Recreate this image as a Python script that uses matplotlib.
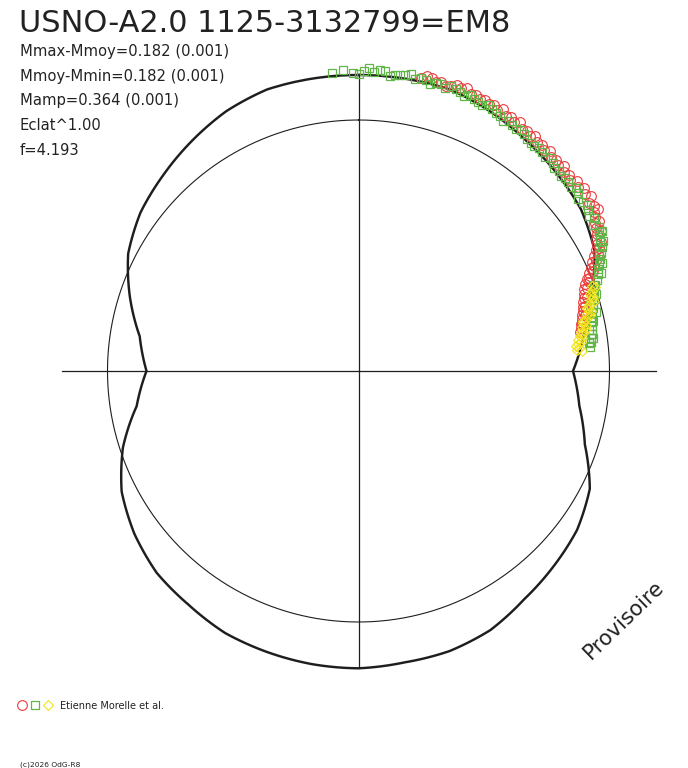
import numpy as np
import matplotlib
matplotlib.use("Agg")
import matplotlib.pyplot as plt

# ---------------- data ----------------
title = "USNO-A2.0 1125-3132799=EM8"
info_lines = ["Mmax-Mmoy=0.182 (0.001)", "Mmoy-Mmin=0.182 (0.001)",
              "Mamp=0.364 (0.001)", "Eclat^1.00", "f=4.193"]
legend_text = "Etienne Morelle et al."
copyright_text = "(c)2026 OdG-R8"
stamp_text = "Provisoire"

# model light curve: phase angle (deg, clockwise from top) and polar radius
curve_deg = [0, 9, 18, 27, 36, 45, 54, 63, 72, 81,
             90, 99, 108, 117, 126, 135, 144, 153, 162, 171,
             180, 189, 198, 207, 216, 225, 234, 243, 252, 261,
             270, 279, 288, 297, 306, 315, 324, 333, 342, 351, 360]
curve_r = [296, 296, 296, 291, 285, 280, 275, 265, 245, 228,
           214.5, 223.6, 238, 259.6, 270.2, 276, 282, 290.7, 294.5, 295,
           297.3, 296.8, 295.5, 294, 289, 285.4, 277, 265.8, 247.7, 224.6,
           212, 221.5, 240.4, 258.5, 269.5, 276.5, 284, 291.5, 296, 296, 296]

# observations (phase angle deg, radius)
green_deg = [-5, -3, -1, 1, 3, 5, 7, 9, 11, 13, 15, 17, 19, 21, 23, 25, 27, 29, 31, 33,
             35, 37, 39, 41, 43, 45, 47, 49, 51, 53, 55, 57, 59, 61, 63, 65, 67, 69, 71, 73,
             75, 77, 79, 81, 83, 84,
             0, 4, 8, 12, 16, 20, 24, 28, 32, 36, 40, 44, 48, 52, 56, 60, 62, 64, 66, 68,
             70, 72, 74, 76, 78, 80, 82,
             2, 6, 10, 14, 18, 22, 26, 30, 34, 38, 42, 46, 50, 54, 58, 60, 62, 64, 66, 68,
             70, 72, 74, 76, 78, 80, 82, 83]
green_r = [299, 301, 298, 300, 299, 301, 298, 300, 297, 299, 298, 296, 298, 295, 296, 293, 294, 291, 292, 289,
           289, 286, 287, 284, 285, 283, 283, 281, 283, 281, 280, 281, 280, 276, 273, 266, 260, 255, 249, 246,
           243, 240, 238, 236, 234, 233,
           297, 302, 299, 300, 299, 297, 295, 292, 290, 287, 286, 282, 282, 279, 278, 278, 274, 270, 263, 258,
           252, 247, 244, 241, 238, 237, 235,
           303, 297, 302, 296, 300, 298, 296, 289, 291, 285, 287, 281, 284, 283, 276, 281, 277, 268, 266, 262,
           251, 250, 241, 245, 240, 234, 237, 232]

red_deg = [12, 14, 16, 18, 20, 22, 24, 26, 28, 30, 32, 34, 36, 38, 40, 42, 44, 46, 48, 50,
           52, 54, 56, 58, 60, 62, 64, 66, 68, 70, 72, 74, 76, 78, 80,
           15, 19, 23, 27, 31, 35, 39, 43, 47, 51, 55, 57, 59, 61, 63, 65, 67, 69, 71, 73, 75, 77,
           13, 17, 21, 25, 29, 33, 37, 41, 45, 49, 53, 56, 58, 60, 62, 63, 64, 65, 66, 67,
           68, 69, 70, 72, 74, 76, 78, 79]
red_r = [300, 302, 301, 300, 301, 299, 298, 297, 296, 295, 294, 292, 291, 290, 289, 288, 287, 286, 285, 286,
         288, 285, 284, 279, 275, 270, 262, 254, 246, 240, 237, 234, 230, 227, 225,
         299, 302, 300, 298, 296, 293, 291, 289, 288, 290, 287, 282, 277, 272, 266, 258, 250, 243, 238, 235, 232, 229,
         303, 298, 303, 299, 299, 297, 294, 292, 290, 289, 291, 289, 284, 280, 275, 270, 266, 262, 258, 255,
         249, 247, 243, 240, 236, 233, 229, 227]

yellow_deg = [70, 71, 72, 73, 74, 75, 76, 77, 78, 79, 80, 81, 82, 83, 84, 72.5, 75.5, 78.5, 80.5, 82.5,
              70.5, 71.5, 73.5, 74.5, 76.5, 77.5, 79.5, 81.5, 83.5, 84.5, 85]
yellow_r = [249, 247, 244, 243, 240, 238, 235, 233, 230, 228, 226, 224, 222, 221, 222, 246, 240, 232, 228, 224,
            251, 244, 246, 237, 238, 230, 231, 226, 219, 220, 224]

ref_circle_r = 251
axis_r = 297

# ---------------- figure ----------------
W, H = 688, 768
fig = plt.figure(figsize=(W / 100, H / 100), dpi=100)
fig.patch.set_facecolor("white")

cx, cy = 358.5, 371.0   # pixel centre (from top)
R = 298.0
ax = fig.add_axes([(cx - R) / W, (H - cy - R) / H, 2 * R / W, 2 * R / H], projection="polar")
ax.set_theta_zero_location("N")
ax.set_theta_direction(-1)
ax.set_rlim(0, R)
ax.set_axis_off()

dark = "#1e1e1e"
# reference circle
t = np.linspace(0, 2 * np.pi, 400)
ax.plot(t, np.full_like(t, ref_circle_r), color=dark, lw=0.8, clip_on=False)
# cross
for a in [0, 90, 180, 270]:
    ax.plot([np.radians(a), np.radians(a)], [0, axis_r], color=dark, lw=0.9, clip_on=False)

# light curve (polar line; let the polar transform follow r(theta) between vertices)
curve_line, = ax.plot(np.radians(curve_deg), curve_r, color=dark, lw=1.75, clip_on=False, zorder=3)
curve_line.get_path()._interpolation_steps = 24

mk = dict(linestyle="none", markerfacecolor="none", clip_on=False)
ax.plot(np.radians(red_deg), red_r, marker="o", ms=7, mec="#ea3a3a", mew=0.8, zorder=4, **mk)
ax.plot(np.radians(green_deg), green_r, marker="s", ms=5.8, mec="#62b548", mew=0.9, zorder=5, **mk)
ax.plot(np.radians(yellow_deg), yellow_r, marker="D", ms=5.6, mec="#f2e41c", mew=0.8, zorder=6, **mk)

fam = ["DejaVu Sans"]


def ftext(x, y, s, **kw):
    return fig.text(x / W, 1 - y / H, s, family=fam, color="#222222", **kw)


ftext(19, 32.5, title, fontsize=21.9, va="baseline", ha="left")
for i, line in enumerate(info_lines):
    ftext(19.5, 56 + i * 24.75, line, fontsize=10.6, va="baseline", ha="left")

# legend symbols
lax = fig.add_axes([0, 0, 1, 1], facecolor="none")
lax.set_xlim(0, W)
lax.set_ylim(H, 0)
lax.set_axis_off()
lax.plot([22.3], [705], marker="o", ms=7, mfc="none", mec="#ea3a3a", mew=0.8)
lax.plot([35], [705], marker="s", ms=5.6, mfc="none", mec="#62b548", mew=0.9)
lax.plot([47.8], [705], marker="D", ms=5.5, mfc="none", mec="#f2e41c", mew=0.8)
ftext(59.5, 709, legend_text, fontsize=7.0, va="baseline", ha="left")
ftext(20, 766, copyright_text, fontsize=5.4, va="baseline", ha="left")

ftext(624, 620, stamp_text, fontsize=15.3, va="center", ha="center", rotation=44)

fig.savefig("out.png", dpi=100, facecolor="white")
